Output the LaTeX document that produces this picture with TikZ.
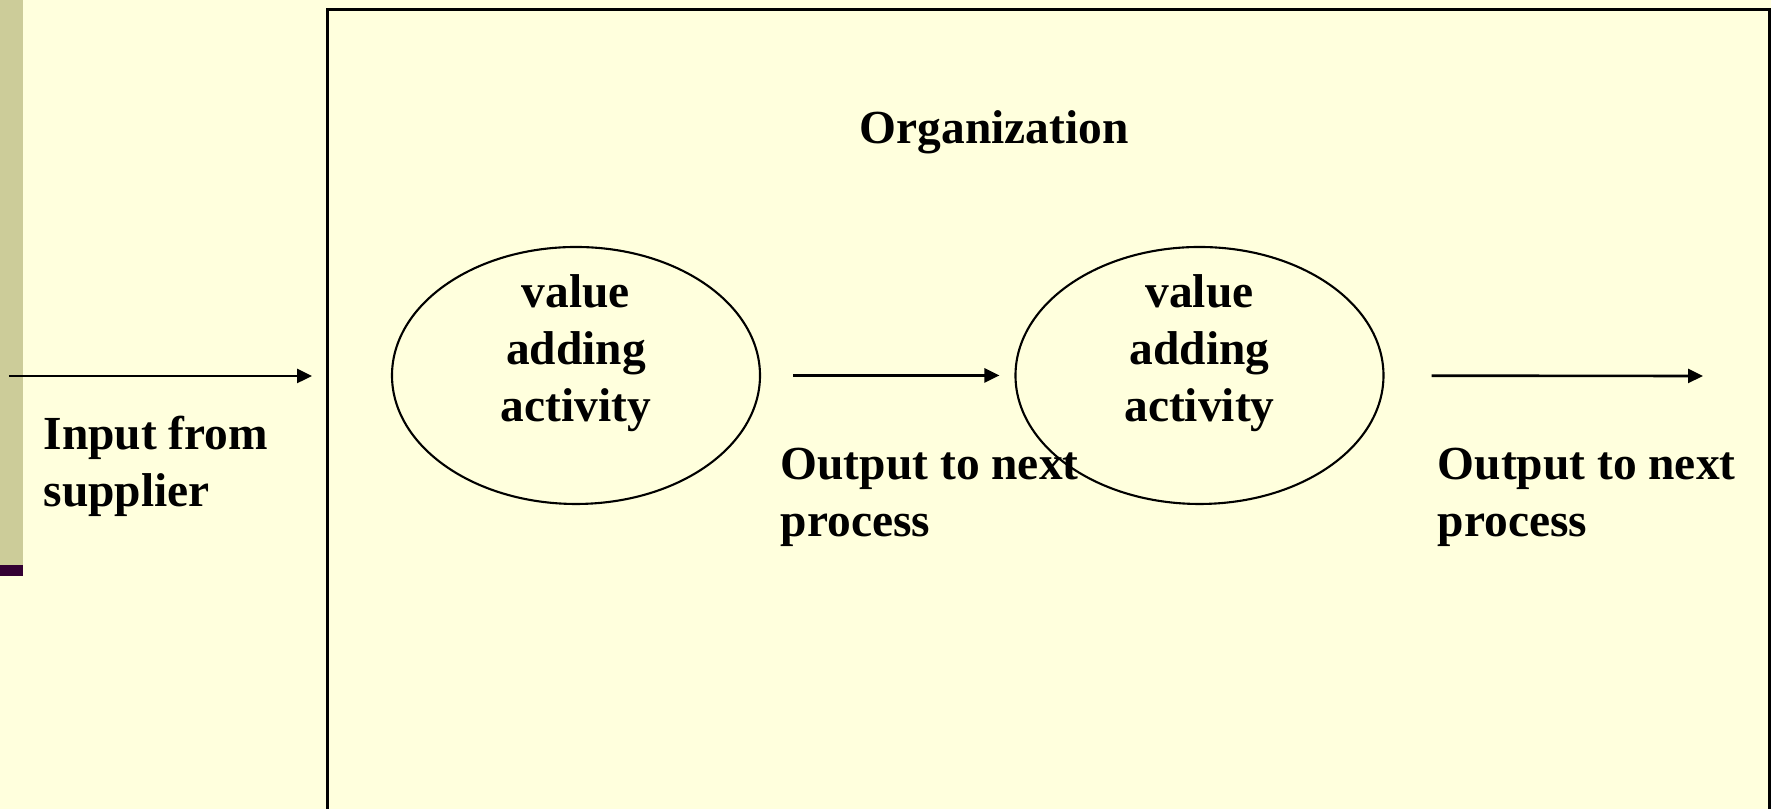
\documentclass[tikz,border=0pt]{standalone}
\usepackage{fontspec}
\setmainfont{Liberation Serif}
\usetikzlibrary{positioning,shapes,arrows.meta}
\definecolor{bgyellow}{RGB}{255,255,221}
\definecolor{barkhaki}{RGB}{204,204,153}
\definecolor{barplum}{RGB}{51,0,51}

\begin{document}
\begin{tikzpicture}[act/.style={draw, ellipse, line width=0.6pt, minimum width=3.68cm, minimum height=2.57cm, inner sep=0pt},
 txt/.style={inner sep=0pt, align=center, font=\fontsize{13.5}{16.2}\selectfont\bfseries},
 lbl/.style={inner sep=0pt, align=left, anchor=north west, font=\fontsize{13.5}{16.2}\selectfont\bfseries},
 flow/.style={line width=0.75pt, -{Triangle[length=0.15cm, width=0.14cm]}}]
\fill[bgyellow] (0,0) rectangle (17.71,8.09);
\useasboundingbox (0,0) rectangle (17.71,8.09);
\clip (0,0) rectangle (17.71,8.09);
\fill[barkhaki] (0,2.44) rectangle (0.23,8.09);
\fill[barplum] (0,2.33) rectangle (0.23,2.44);
\node[draw, line width=0.75pt, anchor=north west, minimum width=14.42cm, minimum height=10cm, inner sep=0pt] (org) at (3.26,8.01) {};
\node[txt, anchor=base] (title) at (9.94,6.655) {Organization};
\node[act] (act1) at (5.76,4.335) {};
\node[act] (act2) at (11.995,4.335) {};
\node[txt] (a1) at ([yshift=0.22cm]act1.center) {value\\adding\\activity};
\node[txt] (a2) at ([yshift=0.22cm]act2.center) {value\\adding\\activity};
\coordinate (in) at (0.09,4.33);
\coordinate (out) at (17.03,4.33);
\draw[flow, shorten >=0.14cm] (in) -- (in -| org.west);
\draw[flow, shorten <=0.32cm, shorten >=0.15cm] (act1) -- (act2);
\draw[flow, shorten <=0.47cm] (act2) -- (out);
\node[lbl] (inlbl) at (0.43,3.94) {Input from\\supplier};
\node[lbl] (out1) at (7.80,3.62) {Output to next\\process};
\node[lbl] (out2) at (14.37,3.62) {Output to next\\process};
\end{tikzpicture}
\end{document}
